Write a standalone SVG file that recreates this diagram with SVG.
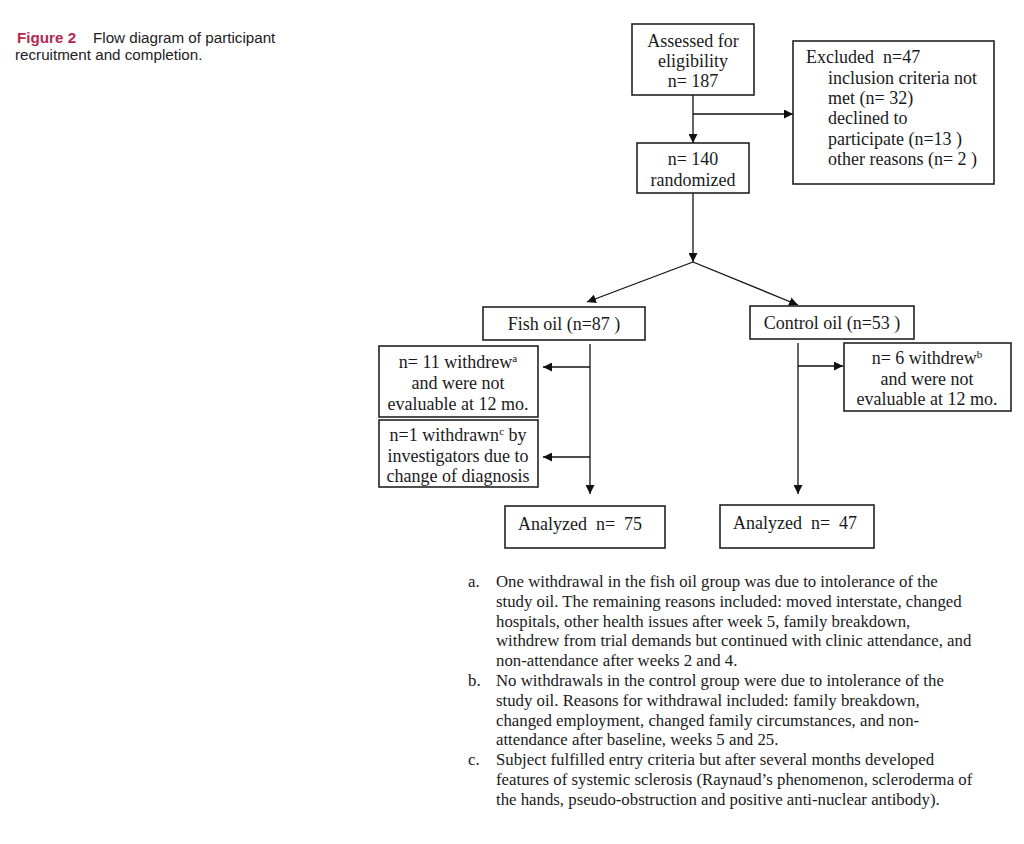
<svg xmlns="http://www.w3.org/2000/svg" width="1024" height="844" viewBox="0 0 1024 844">
<defs>
<marker id="ah" viewBox="0 0 10 10" refX="10" refY="5" markerWidth="9" markerHeight="9" markerUnits="userSpaceOnUse" orient="auto">
<path d="M0,0 L10,5 L0,10 z" fill="#111"/>
</marker>
</defs>
<style>
.box{fill:#fff;stroke:#222;stroke-width:1.6}
.t{font-family:"Liberation Serif","DejaVu Serif",serif;font-size:18px;fill:#1a1a1a}
.c{text-anchor:middle}
.fn{font-family:"Liberation Serif","Times New Roman",serif;font-size:16.8px;fill:#1a1a1a}
.ln{fill:none;stroke:#111;stroke-width:1.3}
.cap{font-family:"Liberation Sans","Open Sans",sans-serif;font-size:15.2px;fill:#222}
.sup{font-size:11px}
</style>
<rect width="1024" height="844" fill="#fff"/>
<g id="caption">
<text class="cap" x="17" y="43" font-weight="bold" style="fill:#b5294f">Figure 2</text>
<text class="cap" x="93" y="43">Flow diagram of participant</text>
<text class="cap" x="15" y="60">recruitment and completion.</text>
</g>
<g id="connectors">
<line class="ln" x1="693" y1="95" x2="693" y2="143" marker-end="url(#ah)"/>
<line class="ln" x1="693" y1="114" x2="793" y2="114" marker-end="url(#ah)"/>
<line class="ln" x1="693" y1="193" x2="693" y2="262" marker-end="url(#ah)"/>
<line class="ln" x1="693" y1="262" x2="587" y2="302" marker-end="url(#ah)"/>
<line class="ln" x1="693" y1="262" x2="798" y2="305" marker-end="url(#ah)"/>
<line class="ln" x1="590" y1="344" x2="590" y2="494" marker-end="url(#ah)"/>
<line class="ln" x1="590" y1="367" x2="543" y2="367" marker-end="url(#ah)"/>
<line class="ln" x1="590" y1="457" x2="543" y2="457" marker-end="url(#ah)"/>
<line class="ln" x1="798" y1="343" x2="798" y2="494" marker-end="url(#ah)"/>
<line class="ln" x1="798" y1="366" x2="843" y2="366" marker-end="url(#ah)"/>
</g>
<g id="assessed">
<rect class="box" x="632" y="24" width="122" height="71"/>
<text class="t c" x="693" y="47">Assessed for</text>
<text class="t c" x="693" y="67">eligibility</text>
<text class="t c" x="693" y="87">n= 187</text>
</g>
<g id="excluded">
<rect class="box" x="793" y="41" width="201" height="143"/>
<text class="t" x="806" y="63" xml:space="preserve">Excluded  n=47</text>
<text class="t" x="828" y="84">inclusion criteria not</text>
<text class="t" x="828" y="104">met (n= 32)</text>
<text class="t" x="828" y="124">declined to</text>
<text class="t" x="828" y="145">participate (n=13 )</text>
<text class="t" x="828" y="165">other reasons (n= 2 )</text>
</g>
<g id="randomized">
<rect class="box" x="637" y="143" width="112" height="50"/>
<text class="t c" x="693" y="165">n= 140</text>
<text class="t c" x="693" y="186">randomized</text>
</g>
<g id="fishoil">
<rect class="box" x="483" y="307" width="162" height="33"/>
<text class="t c" x="564" y="330">Fish oil (n=87 )</text>
</g>
<g id="controloil">
<rect class="box" x="750" y="306" width="164" height="33"/>
<text class="t c" x="832" y="329">Control oil (n=53 )</text>
</g>
<g id="fish-withdrew">
<rect class="box" x="379" y="346" width="159" height="71"/>
<text class="t c" x="458" y="368">n= 11 withdrew<tspan class="sup" dy="-6">a</tspan></text>
<text class="t c" x="458" y="389">and were not</text>
<text class="t c" x="458" y="410">evaluable at 12 mo.</text>
</g>
<g id="fish-withdrawn">
<rect class="box" x="379" y="420" width="159" height="67"/>
<text class="t c" x="458" y="441">n=1 withdrawn<tspan class="sup" dy="-6">c</tspan><tspan dy="6"> by</tspan></text>
<text class="t c" x="458" y="462">investigators due to</text>
<text class="t c" x="458" y="482">change of diagnosis</text>
</g>
<g id="control-withdrew">
<rect class="box" x="844" y="343" width="167" height="68"/>
<text class="t c" x="927" y="364">n= 6 withdrew<tspan class="sup" dy="-6">b</tspan></text>
<text class="t c" x="927" y="385">and were not</text>
<text class="t c" x="927" y="405">evaluable at 12 mo.</text>
</g>
<g id="analyzed-fish">
<rect class="box" x="505" y="506" width="160" height="42"/>
<text class="t" x="518" y="530" xml:space="preserve">Analyzed  n=  75</text>
</g>
<g id="analyzed-control">
<rect class="box" x="720" y="505" width="154" height="43"/>
<text class="t" x="733" y="529" xml:space="preserve">Analyzed  n=  47</text>
</g>
<g id="footnotes">
<text class="fn" x="468" y="587">a.</text>
<text class="fn" x="496" y="587">One withdrawal in the fish oil group was due to intolerance of the</text>
<text class="fn" x="496" y="607">study oil. The remaining reasons included: moved interstate, changed</text>
<text class="fn" x="496" y="627">hospitals, other health issues after week 5, family breakdown,</text>
<text class="fn" x="496" y="646">withdrew from trial demands but continued with clinic attendance, and</text>
<text class="fn" x="496" y="666">non-attendance after weeks 2 and 4.</text>
<text class="fn" x="468" y="686">b.</text>
<text class="fn" x="496" y="686">No withdrawals in the control group were due to intolerance of the</text>
<text class="fn" x="496" y="706">study oil. Reasons for withdrawal included: family breakdown,</text>
<text class="fn" x="496" y="726">changed employment, changed family circumstances, and non-</text>
<text class="fn" x="496" y="745">attendance after baseline, weeks 5 and 25.</text>
<text class="fn" x="468" y="765">c.</text>
<text class="fn" x="496" y="765">Subject fulfilled entry criteria but after several months developed</text>
<text class="fn" x="496" y="785">features of systemic sclerosis (Raynaud’s phenomenon, scleroderma of</text>
<text class="fn" x="496" y="805">the hands, pseudo-obstruction and positive anti-nuclear antibody).</text>
</g>
</svg>
